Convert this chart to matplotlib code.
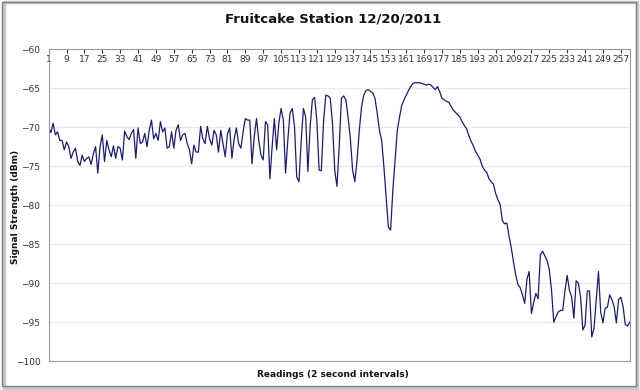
import matplotlib.pyplot as plt
import matplotlib.patches as patches
import numpy as np

title = "Fruitcake Station 12/20/2011"

# signal strength per reading (dBm)
signal_dbm = [
    -70, -70.7, -69.5, -71, -70.6, -71.7, -71.7, -72.9, -71.9, -72.5,
    -74, -73.2, -72.7, -74.4, -74.9, -73.6, -74.4, -74, -73.8, -74.8,
    -73.4, -72.5, -75.9, -72.5, -71, -74.4, -71.7, -72.9, -73.8, -72.4,
    -74, -72.5, -72.7, -74.2, -70.5, -71.2, -71.6, -70.8, -70.3, -74,
    -70.1, -72.1, -71.9, -70.8, -72.5, -70.4, -69.1, -71.5, -70.8, -71.7,
    -69.3, -70.6, -70.1, -72.7, -72.5, -70.6, -72.7, -70.4, -69.7, -71.7,
    -71, -70.8, -72.1, -72.9, -74.7, -72.3, -73.2, -73.2, -69.9, -71.5,
    -72.1, -69.9, -71.5, -72.3, -70.4, -71, -73.2, -70.4, -72.1, -73.8,
    -70.9, -70.1, -74, -71.5, -70.1, -72.1, -72.7, -70.6, -68.9, -69.1,
    -69.1, -74.7, -71.2, -68.9, -71.7, -73.6, -74.2, -69.3, -69.7, -76.6,
    -72.5, -68.9, -72.9, -69.5, -67.6, -69.1, -75.9, -71.7, -68.2, -67.6,
    -69.9, -76.4, -77, -71.7, -67.6, -68.7, -75.7, -69.9, -66.5, -66.2,
    -69.1, -75.5, -75.6, -69.3, -65.9, -66, -66.3, -69.5, -75.5, -77.6,
    -72.5, -66.3, -66, -66.5, -68.8, -71.5, -75.5, -77, -74.2, -70.4,
    -67.4, -65.9, -65.3, -65.2, -65.4, -65.6, -66.3, -68.2, -70.4, -71.7,
    -75.1, -78.9, -82.8, -83.2, -78.1, -74.2, -70.4, -68.7, -67.2, -66.5,
    -65.9, -65.3, -64.8, -64.4, -64.3, -64.3, -64.3, -64.4, -64.5, -64.6,
    -64.5, -64.6, -64.9, -65.2, -64.8, -65.5, -66.3, -66.5, -66.7, -66.8,
    -67.3, -67.8, -68.1, -68.4, -68.7, -69.3, -69.8, -70.2, -71.1, -71.8,
    -72.4, -73.1, -73.6, -74.1, -75, -75.5, -75.8, -76.6, -77, -77.3,
    -78.5, -79.3, -79.9, -82, -82.4, -82.3, -84, -85.5, -87.3, -89,
    -90.2, -90.6, -91.5, -92.6, -89.5, -88.5, -93.9, -92.5, -91.3, -92,
    -86.4, -85.9, -86.5, -87.1, -88.3, -90.9, -95, -94.3, -93.7, -93.5,
    -93.5, -91, -89, -90.9, -91.8, -94.5, -89.7, -90, -91.8, -96,
    -95.4, -91, -91, -96.9, -95.8, -92.2, -88.5, -93.7, -95.1, -93.2,
    -93.1, -91.5, -92.1, -93, -95.1, -92.1, -91.8, -93, -95.3, -95.5, -95,
]
readings = np.arange(1, len(signal_dbm) + 1)
x_ticks = list(range(1, 258, 8))
y_ticks = list(range(-100, -59, 5))

fig = plt.figure(figsize=(6.4, 3.9), dpi=100)
ax = fig.add_axes([0.076, 0.074, 0.908, 0.8])

ax.plot(readings, signal_dbm, color="#1c1c78", lw=0.9)

ax.set_xlim(1, len(signal_dbm))
ax.set_ylim(-100, -60)
ax.set_yticks(y_ticks)
ax.set_xticks(x_ticks)
ax.xaxis.tick_top()
ax.tick_params(axis="x", direction="in", length=3, pad=-11, labelsize=6.5,
               colors="#333333", top=True, bottom=False)
ax.tick_params(axis="y", length=0, pad=6, labelsize=6.5, colors="#333333")
ax.grid(axis="y", color="#ebebeb", lw=0.8)
ax.set_axisbelow(True)
for s in ax.spines.values():
    s.set_color("#999999")
    s.set_linewidth(0.8)

fig.text(0.52, 0.951, title, ha="center", va="center", fontsize=9.5,
         fontweight="bold", color="#111111")
fig.text(0.52, 0.041, "Readings (2 second intervals)", ha="center",
         va="center", fontsize=6.5, fontweight="bold", color="#111111")
fig.text(0.025, 0.47, "Signal Strength (dBm)", ha="center", va="center",
         rotation=90, fontsize=6.5, fontweight="bold", color="#111111")

# chart-area frame with a small shadow
fig.patches.append(patches.Rectangle((0.006, 0.004), 0.99, 0.99,
                                     transform=fig.transFigure, fill=False,
                                     ec="#c8c8c8", lw=2.5))
fig.patches.append(patches.Rectangle((0.003, 0.009), 0.99, 0.987,
                                     transform=fig.transFigure, fill=False,
                                     ec="#808080", lw=1))

fig.savefig("out.png", dpi=100)
